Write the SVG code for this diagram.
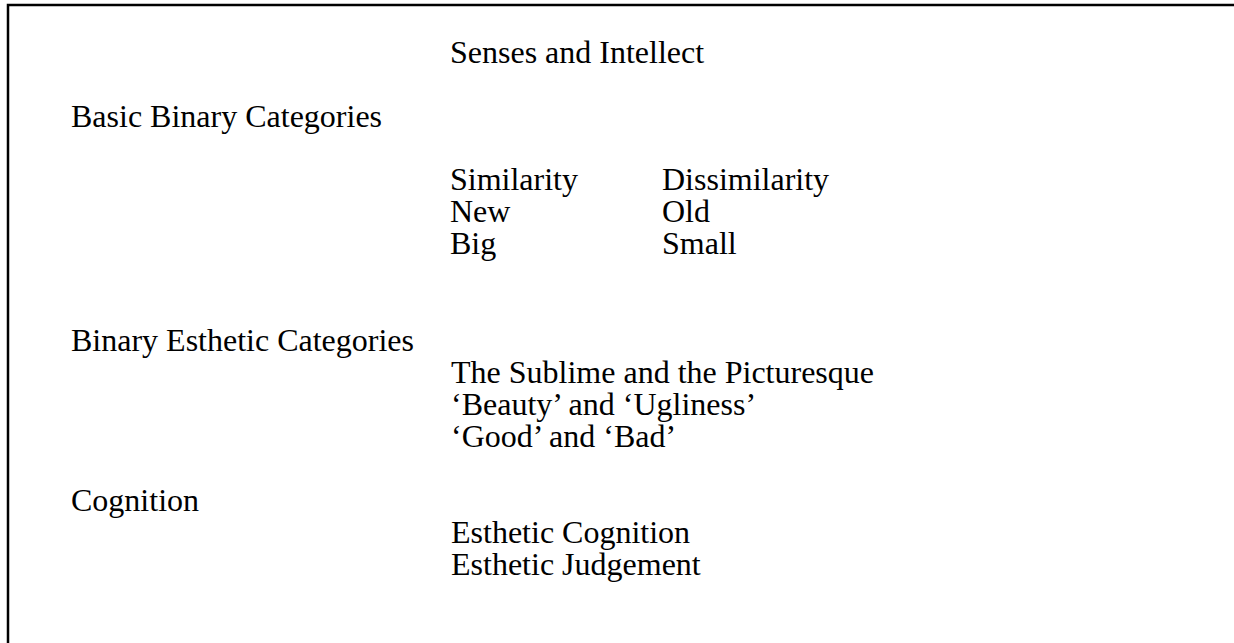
<svg xmlns="http://www.w3.org/2000/svg" width="1234" height="643" viewBox="0 0 1234 643">
<style>
text { font-family: "Liberation Serif", "Times New Roman", serif; font-size: 32px; fill: #000; }
.frame { stroke: #000; stroke-width: 2.5; fill: none; }
</style>
<rect width="1234" height="643" fill="#fff"/>
<g id="frame">
<path class="frame" d="M8 643 V5 H1234"/>
</g>
<g id="title"><text x="450" y="63">Senses and Intellect</text></g>
<g id="basic-label"><text x="71" y="127">Basic Binary Categories</text></g>
<g id="basic-items">
<text x="450" y="190">Similarity</text>
<text x="662" y="190">Dissimilarity</text>
<text x="450" y="222">New</text>
<text x="662" y="222">Old</text>
<text x="450" y="254">Big</text>
<text x="662" y="254">Small</text>
</g>
<g id="esthetic-label"><text x="71" y="351">Binary Esthetic Categories</text></g>
<g id="esthetic-items">
<text x="451" y="383">The Sublime and the Picturesque</text>
<text x="451" y="415">‘Beauty’ and ‘Ugliness’</text>
<text x="451" y="447">‘Good’ and ‘Bad’</text>
</g>
<g id="cognition-label"><text x="71" y="511">Cognition</text></g>
<g id="cognition-items">
<text x="451" y="543">Esthetic Cognition</text>
<text x="451" y="575">Esthetic Judgement</text>
</g>
<g id="connectors"></g>
</svg>
